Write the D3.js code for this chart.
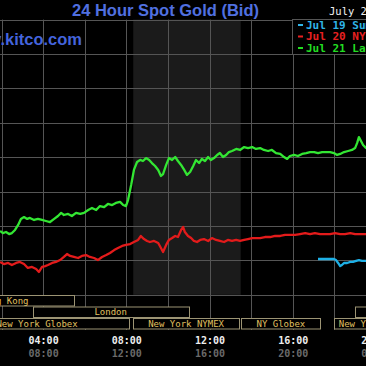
<!DOCTYPE html>
<html>
<head>
<meta charset="utf-8">
<script src="https://cdn.jsdelivr.net/npm/d3@7"></script>
<style>
  html, body { margin: 0; padding: 0; background: #000; }
  svg { display: block; }
</style>
</head>
<body>
<div id="chart"></div>
<script>
var chartTitle = "24 Hour Spot Gold (Bid)";
var siteName = "www.kitco.com";
var dateLabel = "July 21, 2017";
var seriesNames = ["Jul 19 Summary", "Jul 20 NY Close", "Jul 21 Last"];

// [minutes after midnight, bid]
var jul19 = [[1033,1234.08],[1045,1234.08],[1056,1234.08],[1068,1234.08],[1079,1234.08],[1085,1234.02],[1091,1233.85],[1097,1233.67],[1102,1233.73],[1108,1233.85],[1117,1233.85],[1126,1233.91],[1134,1233.91],[1143,1233.97],[1151,1234.02],[1160,1233.97],[1172,1233.97],[1180,1233.97]];

var jul20 = [[116,1233.91],[127,1233.79],[139,1233.85],[150,1233.73],[162,1233.85],[173,1233.91],[185,1233.79],[196,1233.56],[208,1233.62],[220,1233.50],[228,1233.33],[237,1233.62],[246,1233.67],[254,1233.73],[266,1233.85],[277,1233.91],[289,1234.02],[300,1234.20],[309,1234.37],[318,1234.26],[329,1234.20],[341,1234.14],[352,1234.26],[364,1234.31],[375,1234.20],[387,1234.14],[398,1234.02],[410,1234.20],[422,1234.31],[433,1234.43],[445,1234.60],[456,1234.72],[468,1234.84],[479,1234.90],[491,1234.95],[502,1235.07],[514,1235.19],[522,1235.42],[531,1235.24],[540,1235.13],[548,1235.07],[560,1235.13],[572,1235.01],[580,1234.72],[586,1234.49],[595,1234.90],[603,1235.19],[612,1235.30],[621,1235.42],[629,1235.36],[638,1235.77],[644,1235.94],[649,1235.65],[658,1235.42],[667,1235.30],[675,1235.13],[684,1235.07],[693,1235.19],[704,1235.24],[716,1235.13],[727,1235.30],[739,1235.19],[750,1235.13],[762,1235.07],[773,1235.19],[785,1235.13],[797,1235.19],[808,1235.13],[820,1235.19],[831,1235.24],[843,1235.30],[854,1235.30],[866,1235.30],[880,1235.36],[895,1235.36],[909,1235.42],[924,1235.42],[938,1235.48],[952,1235.48],[967,1235.48],[981,1235.53],[996,1235.59],[1010,1235.53],[1024,1235.59],[1039,1235.53],[1053,1235.53],[1068,1235.53],[1082,1235.59],[1097,1235.53],[1111,1235.53],[1126,1235.59],[1140,1235.53],[1154,1235.53],[1172,1235.53],[1180,1235.53]];

var jul21 = [[116,1235.71],[124,1235.59],[133,1235.65],[142,1235.53],[150,1235.59],[159,1235.77],[168,1236.06],[176,1236.41],[185,1236.52],[194,1236.41],[202,1236.47],[214,1236.35],[225,1236.41],[237,1236.35],[248,1236.29],[260,1236.23],[272,1236.41],[283,1236.58],[292,1236.76],[300,1236.64],[312,1236.70],[323,1236.58],[335,1236.76],[347,1236.70],[358,1236.76],[370,1236.93],[381,1237.05],[393,1236.93],[404,1237.16],[416,1237.10],[427,1237.28],[439,1237.22],[450,1237.34],[462,1237.40],[471,1237.22],[479,1237.16],[485,1237.51],[494,1238.38],[502,1239.26],[511,1239.72],[520,1239.84],[528,1239.78],[537,1239.95],[546,1239.84],[554,1239.66],[563,1239.49],[572,1239.26],[580,1238.91],[586,1239.02],[595,1239.55],[603,1239.95],[612,1239.84],[621,1240.01],[629,1239.78],[638,1239.55],[647,1239.26],[655,1238.97],[664,1239.14],[673,1239.49],[681,1239.84],[690,1239.66],[698,1239.90],[707,1239.78],[716,1240.01],[724,1239.84],[733,1239.95],[742,1240.13],[750,1240.24],[759,1240.01],[768,1240.13],[776,1240.30],[785,1240.36],[797,1240.48],[808,1240.42],[820,1240.59],[831,1240.53],[843,1240.59],[854,1240.48],[866,1240.53],[877,1240.42],[889,1240.36],[900,1240.42],[912,1240.24],[924,1240.19],[935,1240.01],[944,1239.90],[952,1240.07],[964,1240.13],[975,1240.07],[987,1240.19],[999,1240.24],[1010,1240.30],[1022,1240.30],[1033,1240.24],[1045,1240.30],[1056,1240.30],[1068,1240.30],[1079,1240.24],[1088,1240.13],[1097,1240.19],[1108,1240.30],[1120,1240.36],[1131,1240.42],[1140,1240.53],[1146,1240.83],[1151,1241.17],[1157,1240.94],[1163,1240.71],[1172,1240.53],[1180,1240.42]];

// trading sessions (minutes), row of the session strip
var sessionNames = ["Hong Kong", "London", "New York Globex", "New York NYMEX", "NY Globex", "New York Globex", "Sydney"];
var sessionStart = [-75, 210, -45, 500, 812, 1080, 1140];
var sessionEnd = [330, 660, 490, 805, 1040, 1340, 1500];
var sessionRow = [0, 1, 2, 2, 2, 2, 1];

var nyHours = [500, 810];
var gridMinutes = [120, 240, 360, 480, 600, 720, 840, 960, 1080, 1200];
var priceTicks = [1232, 1234, 1236, 1238, 1240, 1242, 1244, 1246, 1248];
var tickMinutes = [240, 480, 720, 960, 1200];
var localLabels = ["04:00", "08:00", "12:00", "16:00", "20:00"];
var gmtLabels = ["08:00", "12:00", "16:00", "20:00", "00:00"];

var colors = ["#1eb0e6", "#e31b1b", "#33e633"];
var legendColors = ["#2fb4e8", "#e82020", "#22dd22"];

var width = 366, height = 366;
var mono = "'DejaVu Sans Mono', monospace";

var svg = d3.select("#chart")
    .append("svg")
    .attr("width", width)
    .attr("height", height)
    .style("background", "#000");

var x = d3.scaleLinear().domain([120, 1200]).range([1.5, 375.9]);
var y = d3.scaleLinear().domain([1232, 1248]).range([294.8, 19.6]);
var crisp = v => Math.round(v) + 0.5;

var plotTop = y(1248), plotBottom = y(1232), stripBottom = 330;

// NY trading hours shading
svg.append("rect")
    .attr("x", x(nyHours[0]))
    .attr("y", plotTop)
    .attr("width", x(nyHours[1]) - x(nyHours[0]))
    .attr("height", plotBottom - plotTop)
    .attr("fill", "#1b1b1b");

// grid
svg.append("g").selectAll("line")
    .data(gridMinutes)
    .join("line")
    .attr("x1", d => crisp(x(d))).attr("x2", d => crisp(x(d)))
    .attr("y1", plotTop).attr("y2", stripBottom)
    .attr("stroke", "#555");

svg.append("g").selectAll("line")
    .data(priceTicks)
    .join("line")
    .attr("x1", 0).attr("x2", width)
    .attr("y1", d => crisp(y(d))).attr("y2", d => crisp(y(d)))
    .attr("stroke", "#555");

// session strip
var rowTop = [295, 306.5, 318], rowH = 10.5;
var sessions = svg.append("g").selectAll("g")
    .data(sessionNames.map((n, i) => ({ name: n, s: sessionStart[i], e: sessionEnd[i], row: sessionRow[i] })))
    .join("g");

sessions.append("rect")
    .attr("x", d => crisp(x(d.s)))
    .attr("y", d => rowTop[d.row] + 0.5)
    .attr("width", d => Math.round(x(d.e) - x(d.s)))
    .attr("height", rowH)
    .attr("fill", "#000")
    .attr("stroke", "#9c9474");

sessions.append("text")
    .attr("x", d => (x(d.s) + x(d.e)) / 2)
    .attr("y", d => rowTop[d.row] + 8.5)
    .attr("text-anchor", "middle")
    .attr("font-family", mono)
    .attr("font-size", 9)
    .attr("fill", "#e0c060")
    .text(d => d.name);

// price lines
var line = d3.line()
    .x(d => x(d[0]))
    .y(d => y(d[1]));

[jul19, jul20, jul21].forEach((s, i) => {
    svg.append("path")
        .datum(s)
        .attr("fill", "none")
        .attr("stroke", colors[i])
        .attr("stroke-width", 2.3)
        .attr("stroke-linejoin", "round")
        .attr("d", line);
});

// time axis, local and GMT rows
var axisLocal = svg.append("g")
    .attr("transform", "translate(0,334)")
    .call(d3.axisBottom(x).tickValues(tickMinutes).tickSize(0)
        .tickFormat((d, i) => localLabels[i]));
var axisGmt = svg.append("g")
    .attr("transform", "translate(0,347)")
    .call(d3.axisBottom(x).tickValues(tickMinutes).tickSize(0)
        .tickFormat((d, i) => gmtLabels[i]));
[axisLocal, axisGmt].forEach((a, i) => {
    a.select(".domain").remove();
    a.selectAll("text")
        .attr("font-family", mono)
        .attr("font-size", 10)
        .attr("font-weight", "bold")
        .attr("fill", i == 0 ? "#eeeeee" : "#6a6a6a");
});

// legend
svg.append("rect")
    .attr("x", 292.5).attr("y", 19.5)
    .attr("width", 100).attr("height", 35)
    .attr("fill", "#000")
    .attr("stroke", "#555");

svg.append("text")
    .attr("x", 329).attr("y", 15)
    .attr("font-family", mono)
    .attr("font-size", 10.5)
    .attr("fill", "#f0f0f0")
    .text(dateLabel);

var legendY = [28.5, 40, 51.5];
var legend = svg.append("g").selectAll("g")
    .data(seriesNames)
    .join("g");
legend.append("line")
    .attr("x1", 298).attr("x2", 303)
    .attr("y1", (d, i) => legendY[i] - 3.5)
    .attr("y2", (d, i) => legendY[i] - 3.5)
    .attr("stroke", (d, i) => legendColors[i])
    .attr("stroke-width", 2);
legend.append("text")
    .attr("x", 306)
    .attr("y", (d, i) => legendY[i])
    .attr("font-family", mono)
    .attr("font-size", 11)
    .attr("font-weight", "bold")
    .attr("fill", (d, i) => legendColors[i])
    .text(d => d);

// title and site
svg.append("text")
    .attr("x", 165.5).attr("y", 15.5)
    .attr("text-anchor", "middle")
    .attr("font-family", "'Liberation Sans', Arial, sans-serif")
    .attr("font-size", 16.5)
    .attr("font-weight", "bold")
    .attr("fill", "#5070e0")
    .text(chartTitle);

svg.append("text")
    .attr("x", 82).attr("y", 44.5)
    .attr("text-anchor", "end")
    .attr("font-family", "'Liberation Sans', Arial, sans-serif")
    .attr("font-size", 16.5)
    .attr("font-weight", "bold")
    .attr("fill", "#4464dc")
    .text(siteName);
</script>
</body>
</html>
